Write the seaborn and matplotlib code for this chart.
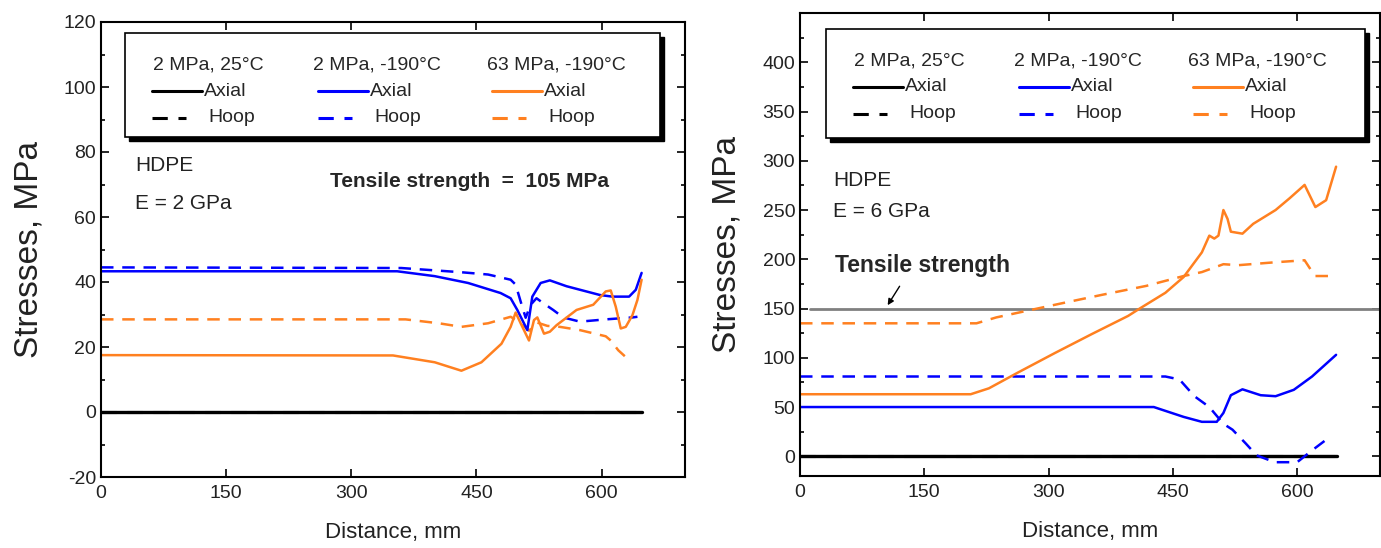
import numpy as np
import pandas as pd
import matplotlib
matplotlib.use("Agg")
import matplotlib.pyplot as plt
from matplotlib.patches import Rectangle
from matplotlib.lines import Line2D
from matplotlib.ticker import MultipleLocator
import seaborn as sns

W, H = 1381, 548
ORANGE = "#FF8020"

# ───────────── data: left panel, HDPE E = 2 GPa ─────────────
l_black_x = [0, 648]
l_black_axial = [0, 0]
l_black_hoop = [0, 0]

l_blue_axial_x = [0, 355, 400, 440, 479, 491, 499, 511, 517, 527, 538, 558, 598, 613, 633, 641, 648]
l_blue_axial_y = [43.3, 43.3, 41.8, 39.7, 36.6, 35, 31.4, 25.2, 35.5, 39.7, 40.5, 38.7, 36, 35.5, 35.5, 37.6, 42.8]

l_blue_hoop_x = [0, 360, 432, 464, 491, 497, 503, 509, 515, 522, 530, 542, 554, 574, 605, 637, 643]
l_blue_hoop_y = [44.5, 44.3, 43, 42.3, 40.7, 39.2, 34, 29, 33, 35, 33.5, 31.4, 29.1, 27.8, 28.5, 29.1, 29.3]

l_orange_axial_x = [0, 350, 400, 432, 456, 480, 491, 497, 503, 513, 519, 523, 531, 538, 546,
                    570, 590, 605, 611, 617, 623, 629, 637, 643, 648]
l_orange_axial_y = [17.5, 17.4, 15.3, 12.7, 15.3, 21, 26.2, 30.6, 27.3, 22, 28.3, 29.1, 24.1, 24.7, 26.7,
                    31.4, 33, 37.1, 37.4, 32.4, 25.7, 26.2, 29.8, 34.5, 40.7]

l_orange_hoop_x = [0, 365, 405, 432, 464, 491, 503, 513, 523, 535, 550, 574, 605, 611, 620, 629, 635]
l_orange_hoop_y = [28.5, 28.5, 27.3, 26.2, 27.3, 29.3, 27.3, 25, 27.5, 26.5, 26.2, 25.2, 23.3, 22, 19, 16.9, 17.4]

# ───────────── data: right panel, HDPE E = 6 GPa ─────────────
r_black_x = [0, 648]
r_black_axial = [0, 0]
r_black_hoop = [0, 0]

r_blue_axial_x = [0, 427, 463, 485, 503, 511, 520, 534, 556, 574, 596, 618, 647]
r_blue_axial_y = [50, 50, 40, 35, 35, 44, 62, 68, 62, 61, 67.5, 81, 103]

r_blue_hoop_x = [0, 441, 458, 476, 494, 511, 522, 538, 551, 573, 600, 618, 640]
r_blue_hoop_y = [81, 81, 78, 61, 50, 33, 27, 13, 1, -6, -6, 6, 20]

r_orange_axial_x = [0, 206, 228, 263, 308, 352, 396, 410, 441, 463, 485, 494, 500, 505, 511, 516,
                    520, 534, 547, 574, 591, 609, 622, 635, 647]
r_orange_axial_y = [63, 63, 69, 85, 105, 124, 142.5, 150, 166, 182, 207, 224, 221, 224, 250, 241,
                    228, 226, 236, 250, 262, 275.5, 253, 260, 294]

r_orange_hoop_x = [0, 213, 237, 281, 317, 365, 418, 463, 485, 511, 529, 574, 609, 616, 622, 640]
r_orange_hoop_y = [135, 135, 141, 149, 155.5, 164, 173, 183, 187, 195, 194, 197, 199, 190, 183, 183]

tensile_x = [12, 700]
tensile_y = [150, 150]

legend_titles = ["2 MPa, 25°C", "2 MPa, -190°C", "63 MPa, -190°C"]
legend_colors = ["black", "blue", ORANGE]

DASH = (0, (5, 3.5))


def px(x, y):
    """pixel (from top-left) -> figure fraction"""
    return x / W, 1 - y / H


def draw_legend(fig, left, top, width, height):
    x0, y0 = px(left + 4, top + height + 4)
    fig.add_artist(Rectangle((x0, y0), width / W, height / H, transform=fig.transFigure,
                             facecolor="black", edgecolor="black", zorder=5))
    x0, y0 = px(left, top + height)
    fig.add_artist(Rectangle((x0, y0), width / W, height / H, transform=fig.transFigure,
                             facecolor="white", edgecolor="black", lw=1.2, zorder=6))
    title_off = [28, 188, 362]
    line_off = [27, 193, 367]
    for t, c, to, lo in zip(legend_titles, legend_colors, title_off, line_off):
        fig.text(*px(left + to, top + 32), t, fontsize=14, va="center", ha="left", zorder=7)
        xa, ya = px(left + lo, top + 58)
        xb, _ = px(left + lo + 50, top + 58)
        fig.add_artist(Line2D([xa, xb], [ya, ya], color=c, lw=2.2, transform=fig.transFigure, zorder=7))
        fig.text(*px(left + lo + 52, top + 58), "Axial", fontsize=14, va="center", ha="left", zorder=7)
        xa, ya = px(left + lo, top + 85)
        xb, _ = px(left + lo + 34, top + 85)
        fig.add_artist(Line2D([xa, xb], [ya, ya], color=c, lw=2.2, ls=DASH, transform=fig.transFigure, zorder=7))
        fig.text(*px(left + lo + 56, top + 85), "Hoop", fontsize=14, va="center", ha="left", zorder=7)


def series(ax, x, y, color, dashed=False, lw=1.8):
    df = pd.DataFrame({"x": x, "y": y})
    sns.lineplot(data=df, x="x", y="y", ax=ax, color=color, lw=lw, estimator=None, sort=False,
                 linestyle=DASH if dashed else "-")


def style_axes(ax, ylim, yminor, yticks):
    ax.set_xlim(0, 700)
    ax.set_ylim(*ylim)
    ax.set_xticks([0, 150, 300, 450, 600])
    ax.set_yticks(yticks)
    ax.yaxis.set_minor_locator(MultipleLocator(yminor))
    ax.tick_params(which="both", direction="in", top=True, right=True, labelsize=14, width=1.2,
                   colors="black", labelcolor="#222222")
    ax.tick_params(which="major", length=6)
    ax.tick_params(which="minor", length=3)
    ax.tick_params(axis="x", pad=6)
    for s in ax.spines.values():
        s.set_linewidth(1.5)
        s.set_color("black")
    ax.set_xlabel("Distance, mm", fontsize=16, labelpad=14, color="#222222")
    ax.set_ylabel("Stresses, MPa", fontsize=24, labelpad=14, color="#222222")


sns.set_style("ticks")
plt.rcParams["font.family"] = ["Liberation Sans", "DejaVu Sans"]
plt.rcParams["axes.unicode_minus"] = False

fig = plt.figure(figsize=(W / 100, H / 100), dpi=100)
axL = fig.add_axes([101 / W, 1 - 477 / H, 584 / W, 455 / H])
axR = fig.add_axes([800 / W, 1 - 476 / H, 580 / W, 463 / H])

# left panel
series(axL, l_black_x, l_black_hoop, "black", dashed=True, lw=2.2)
series(axL, l_black_x, l_black_axial, "black", lw=2.4)
series(axL, l_blue_hoop_x, l_blue_hoop_y, "blue", dashed=True)
series(axL, l_orange_hoop_x, l_orange_hoop_y, ORANGE, dashed=True)
series(axL, l_blue_axial_x, l_blue_axial_y, "blue")
series(axL, l_orange_axial_x, l_orange_axial_y, ORANGE)
style_axes(axL, (-20, 120), 10, np.arange(-20, 121, 20))
axL.text(41, 75.7, "HDPE", fontsize=15, va="center", color="#222222")
axL.text(41, 64.3, "E = 2 GPa", fontsize=15, va="center", color="#222222")
axL.text(275, 71, "Tensile strength  =  105 MPa", fontsize=15, fontweight="bold", va="center")

# right panel
series(axR, tensile_x, tensile_y, "#808080", lw=2.0)
series(axR, r_black_x, r_black_hoop, "black", dashed=True, lw=2.2)
series(axR, r_black_x, r_black_axial, "black", lw=2.4)
series(axR, r_blue_hoop_x, r_blue_hoop_y, "blue", dashed=True)
series(axR, r_orange_hoop_x, r_orange_hoop_y, ORANGE, dashed=True)
series(axR, r_blue_axial_x, r_blue_axial_y, "blue")
series(axR, r_orange_axial_x, r_orange_axial_y, ORANGE)
style_axes(axR, (-20, 450), 25, np.arange(0, 401, 50))
axR.text(40, 280, "HDPE", fontsize=15, va="center", color="#222222")
axR.text(40, 248, "E = 6 GPa", fontsize=15, va="center", color="#222222")
axR.text(42, 194, "Tensile strength", fontsize=16.5, fontweight="bold", va="center")
axR.annotate("", xy=(104, 151), xytext=(122, 175),
             arrowprops=dict(arrowstyle="-|>", color="black", lw=1.0, mutation_scale=9))

draw_legend(fig, 125, 33, 535, 104)
draw_legend(fig, 826, 29, 539, 109)

fig.savefig("out.png", dpi=100)
